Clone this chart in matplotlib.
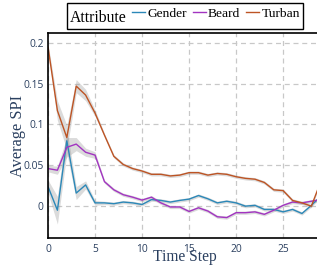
import numpy as np
import matplotlib
matplotlib.use('Agg')
import matplotlib.pyplot as plt
from matplotlib.offsetbox import HPacker, VPacker, DrawingArea

# valeurs
steps = list(range(30))
gender = [0.024, -0.005, 0.080, 0.016, 0.026, 0.004, 0.004, 0.003, 0.005, 0.004,
          0.002, 0.008, 0.007, 0.005, 0.007, 0.0086, 0.013, 0.009, 0.004, 0.006,
          0.004, 0.000, 0.001, -0.004, -0.004, -0.007, -0.004, -0.009, 0.001, 0.012]
beard = [0.046, 0.044, 0.072, 0.076, 0.066, 0.0625, 0.030, 0.020, 0.014, 0.011,
         0.0074, 0.011, 0.004, -0.001, -0.001, -0.0065, -0.002, -0.006, -0.013, -0.014,
         -0.008, -0.008, -0.007, -0.010, -0.005, 0.001, 0.005, 0.004, 0.006, 0.008]
turban = [0.195, 0.117, 0.084, 0.147, 0.136, 0.114, 0.087, 0.061, 0.051, 0.046,
          0.043, 0.039, 0.039, 0.037, 0.038, 0.041, 0.041, 0.038, 0.040, 0.039,
          0.036, 0.034, 0.033, 0.029, 0.020, 0.019, 0.007, 0.004, 0.000, 0.030]

# demi-largeur des bandes d'incertitude
gender_err = [0.008, 0.017, 0.015, 0.008, 0.005, 0.003] + [0.002] * 24
beard_err = [0.004, 0.005, 0.012, 0.008, 0.005, 0.004] + [0.002] * 24
turban_err = [0.004, 0.012, 0.015, 0.008, 0.007, 0.004] + [0.002] * 24

series = [('Gender', gender, gender_err, '#2b88b8'),
          ('Beard', beard, beard_err, '#a234c1'),
          ('Turban', turban, turban_err, '#bd5424')]

txt_col = '#2a3f5f'
serif = ['Liberation Serif', 'DejaVu Serif']

fig = plt.figure(figsize=(3.17, 2.70), dpi=100)
ax = fig.add_axes([48 / 317, 1 - 238 / 270, 269 / 317, 205 / 270])

lines = []
for name, vals, err, col in series:
    v = np.array(vals)
    e = np.array(err)
    ax.fill_between(steps, v - e, v + e, color='#999999', alpha=0.35, lw=0)
    ln, = ax.plot(steps, v, color=col, lw=1.0, label=name)
    lines.append(ln)

ax.set_xlim(0, 28.6)
ax.set_ylim(-0.039, 0.212)
ax.set_xticks([0, 5, 10, 15, 20, 25])
ax.set_yticks([0, 0.05, 0.1, 0.15, 0.2])
ax.set_yticklabels(['0', '0.05', '0.1', '0.15', '0.2'])
ax.tick_params(length=0, labelsize=7.4, labelcolor=txt_col)
ax.tick_params(axis='x', pad=4.5)
ax.tick_params(axis='y', pad=3)
for lab in ax.get_xticklabels() + ax.get_yticklabels():
    lab.set_family('Open Sans')
ax.grid(True, ls=(0, (4, 3)), color='#c8c8c8', lw=0.9)
ax.set_axisbelow(True)
ax.spines['right'].set_visible(False)
for s in ['left', 'bottom', 'top']:
    ax.spines[s].set_color('black')
    ax.spines[s].set_linewidth(1.2)

ax.set_xlabel('Time Step', family=serif, fontsize=11.2, color=txt_col)
ax.set_ylabel('Average SPI', family=serif, fontsize=11.8, color=txt_col)
ax.xaxis.set_label_coords(0.508, -0.056)
ax.yaxis.set_label_coords(-0.082, 0.5)

leg = ax.legend(handles=lines, title='Attribute', ncol=3, loc='lower center',
                bbox_to_anchor=(0.508, 1.02), borderaxespad=0, fancybox=False,
                edgecolor='black', framealpha=1, handlelength=0.97,
                handletextpad=0.15, columnspacing=0.45, borderpad=0.2,
                prop={'family': serif, 'size': 9.7},
                title_fontproperties={'family': serif, 'size': 11.3})
leg.get_frame().set_linewidth(1.0)
# titre de la légende sur la même ligne que les entrées
title_col = VPacker(pad=0, sep=0, align='left',
                    children=[DrawingArea(1, 3), leg._legend_title_box])
entries_col = VPacker(pad=0, sep=0, align='left',
                      children=[leg._legend_handle_box, DrawingArea(1, 3)])
leg._legend_box = HPacker(pad=2.0, sep=4.2, align='center',
                          children=[title_col, entries_col])
leg._legend_box.set_figure(fig)
leg._legend_box.axes = ax
leg._legend_box.set_offset(leg._findoffset)

fig.savefig('out.png', dpi=100)
